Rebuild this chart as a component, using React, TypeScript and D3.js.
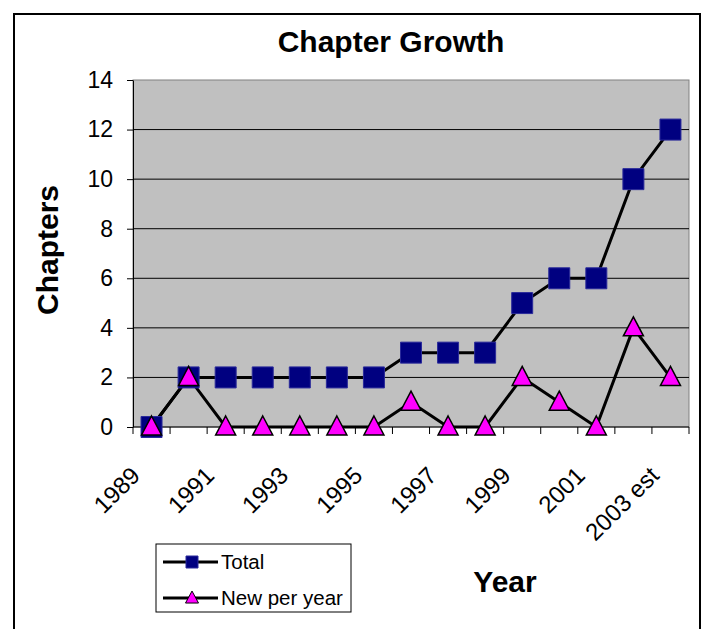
import React, { useRef, useEffect } from 'react';
import * as d3 from 'd3';

const years = ['1989', '1990', '1991', '1992', '1993', '1994', '1995', '1996', '1997', '1998', '1999', '2000', '2001', '2002', '2003 est'];
const totalChapters = [0, 2, 2, 2, 2, 2, 2, 3, 3, 3, 5, 6, 6, 10, 12];
const newPerYear = [0, 2, 0, 0, 0, 0, 0, 1, 0, 0, 2, 1, 0, 4, 2];
const yTicks = [0, 2, 4, 6, 8, 10, 12, 14];

const FONT = '"Liberation Sans", Arial, sans-serif';

const App = () => {
  const svgRef = useRef<SVGSVGElement>(null);
  const width = 707;
  const height = 629;

  useEffect(() => {
    const svg = d3.select(svgRef.current);
    svg.selectAll('*').remove();

    const plot = { left: 133, right: 689, top: 80, bottom: 427 };

    // outer frame
    svg.append('rect')
      .attr('x', 14).attr('y', 14)
      .attr('width', 686).attr('height', 700)
      .attr('fill', 'white')
      .attr('stroke', 'black')
      .attr('stroke-width', 2);

    const x = d3.scaleBand().domain(years).range([plot.left, plot.right]).padding(0);
    const y = d3.scaleLinear().domain([0, 14]).range([plot.bottom, plot.top]);
    const cx = (d: string) => (x(d) as number) + x.bandwidth() / 2;

    // plot area
    svg.append('rect')
      .attr('x', plot.left).attr('y', plot.top)
      .attr('width', plot.right - plot.left).attr('height', plot.bottom - plot.top)
      .attr('fill', '#C0C0C0')
      .attr('stroke', '#808080')
      .attr('stroke-width', 1);

    // gridlines
    svg.append('g')
      .selectAll('line')
      .data(yTicks.filter(t => t > 0 && t < 14))
      .enter()
      .append('line')
      .attr('x1', plot.left).attr('x2', plot.right)
      .attr('y1', d => y(d)).attr('y2', d => y(d))
      .attr('stroke', 'black')
      .attr('stroke-width', 1);

    // y axis
    const yAxis = svg.append('g')
      .attr('transform', `translate(${plot.left},0)`)
      .call(d3.axisLeft(y).tickValues(yTicks).tickSize(6).tickPadding(14).tickSizeOuter(0));
    yAxis.select('.domain').attr('stroke', 'black');
    yAxis.selectAll('.tick line').attr('stroke', 'black');
    yAxis.selectAll('.tick text')
      .attr('fill', 'black')
      .style('font-family', FONT)
      .style('font-size', '23px');

    // x axis
    const xAxis = svg.append('g')
      .attr('transform', `translate(0,${plot.bottom})`)
      .call(d3.axisBottom(x).tickSize(0).tickFormat(() => ''));
    xAxis.select('.domain').attr('stroke', 'black').attr('d', `M${plot.left},0H${plot.right}`);
    xAxis.selectAll('.tick').remove();

    const bounds = years.map(d => x(d) as number).concat([plot.right]);
    svg.append('g')
      .selectAll('line')
      .data(bounds)
      .enter()
      .append('line')
      .attr('x1', d => d).attr('x2', d => d)
      .attr('y1', plot.bottom).attr('y2', plot.bottom + 7)
      .attr('stroke', 'black');

    svg.append('g')
      .selectAll('text')
      .data(years.filter((_, i) => i % 2 === 0))
      .enter()
      .append('text')
      .attr('transform', d => `translate(${cx(d) - 10},${plot.bottom + 50}) rotate(-45)`)
      .attr('text-anchor', 'end')
      .style('font-family', FONT)
      .style('font-size', '24px')
      .text(d => d);

    // series lines
    const line = d3.line<number>()
      .x((_, i) => cx(years[i]))
      .y(d => y(d));

    svg.append('path')
      .datum(totalChapters)
      .attr('d', line)
      .attr('fill', 'none')
      .attr('stroke', 'black')
      .attr('stroke-width', 3);

    svg.append('path')
      .datum(newPerYear)
      .attr('d', line)
      .attr('fill', 'none')
      .attr('stroke', 'black')
      .attr('stroke-width', 3);

    const square = (s: number) => `M${-s / 2},${-s / 2}h${s}v${s}h${-s}Z`;
    const triangle = (w: number, h: number) => `M0,${-h * 0.58}L${w / 2},${h * 0.42}L${-w / 2},${h * 0.42}Z`;

    svg.append('g')
      .selectAll('path')
      .data(totalChapters)
      .enter()
      .append('path')
      .attr('transform', (d, i) => `translate(${cx(years[i])},${y(d)})`)
      .attr('d', square(21))
      .attr('fill', '#000080')
      .attr('stroke', '#2a2a9a')
      .attr('stroke-width', 1);

    svg.append('g')
      .selectAll('path')
      .data(newPerYear)
      .enter()
      .append('path')
      .attr('transform', (d, i) => `translate(${cx(years[i])},${y(d)})`)
      .attr('d', triangle(20, 19))
      .attr('fill', '#FF00FF')
      .attr('stroke', 'black')
      .attr('stroke-width', 1.5);

    // title
    svg.append('text')
      .attr('x', 391)
      .attr('y', 52)
      .attr('text-anchor', 'middle')
      .style('font-family', FONT)
      .style('font-size', '30px')
      .style('font-weight', 'bold')
      .text('Chapter Growth');

    // axis titles
    svg.append('text')
      .attr('transform', 'translate(58,250) rotate(-90)')
      .attr('text-anchor', 'middle')
      .style('font-family', FONT)
      .style('font-size', '30px')
      .style('font-weight', 'bold')
      .text('Chapters');

    svg.append('text')
      .attr('x', 505)
      .attr('y', 592)
      .attr('text-anchor', 'middle')
      .style('font-family', FONT)
      .style('font-size', '30px')
      .style('font-weight', 'bold')
      .text('Year');

    // legend
    const legend = svg.append('g').attr('transform', 'translate(156,544)');
    legend.append('rect')
      .attr('width', 195).attr('height', 68)
      .attr('fill', 'white')
      .attr('stroke', 'black')
      .attr('stroke-width', 1);

    const items = [
      { name: 'Total', marker: square(12), fill: '#000080', stroke: '#2a2a9a' },
      { name: 'New per year', marker: triangle(13, 12), fill: '#FF00FF', stroke: 'black' },
    ];
    const row = legend.selectAll('.item')
      .data(items)
      .enter()
      .append('g')
      .attr('class', 'item')
      .attr('transform', (_, i) => `translate(0,${18 + i * 36})`);
    row.append('line')
      .attr('x1', 7).attr('x2', 62)
      .attr('stroke', 'black').attr('stroke-width', 3);
    row.append('path')
      .attr('transform', 'translate(36,0)')
      .attr('d', d => d.marker)
      .attr('fill', d => d.fill)
      .attr('stroke', d => d.stroke)
      .attr('stroke-width', 1);
    row.append('text')
      .attr('x', 65)
      .attr('dy', '0.35em')
      .style('font-family', FONT)
      .style('font-size', '20.5px')
      .text(d => d.name);
  }, []);

  return (
    <svg
      ref={svgRef}
      width={width}
      height={height}
      style={{ position: 'absolute', left: 0, top: 0, background: 'white' }}
    />
  );
};

export default App;
